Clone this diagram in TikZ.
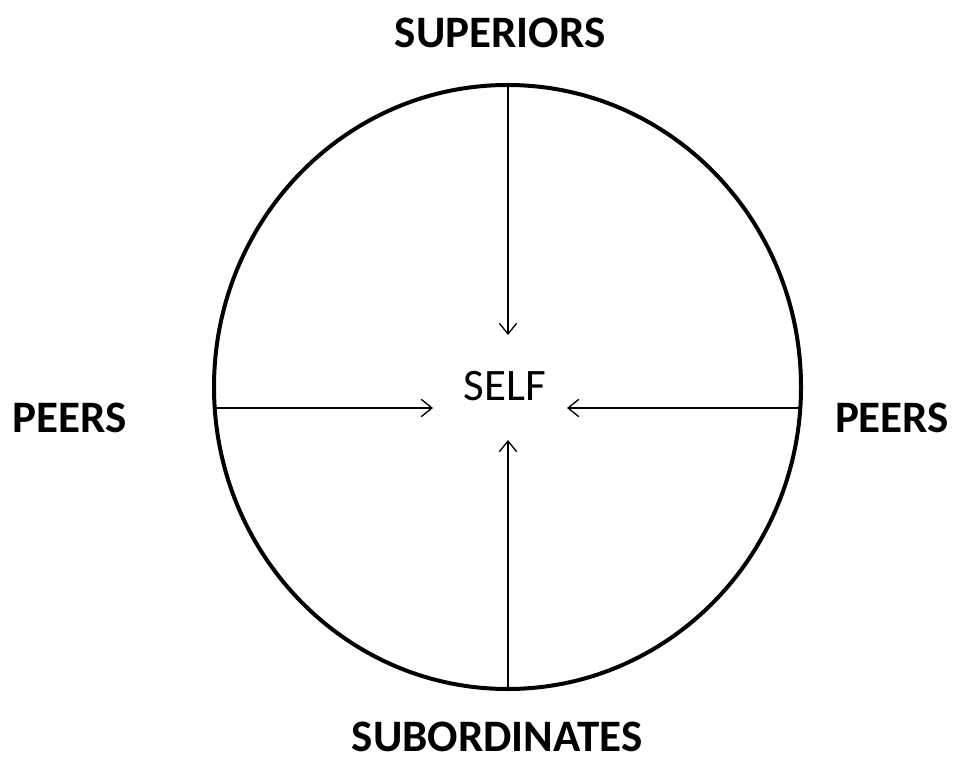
\documentclass[tikz,border=0pt]{standalone}
\usepackage{fontspec}
\setmainfont{Carlito}
\usetikzlibrary{arrows.meta,positioning,shapes.geometric}

\begin{document}
\begin{tikzpicture}[x=0.75pt, y=-0.75pt,
  ring/.style={draw, ellipse, line width=3pt, minimum width=440.25pt, minimum height=453pt, inner sep=0pt},
  lbl/.style={font=\fontsize{33.75}{40}\selectfont\bfseries, inner sep=0pt},
  flow/.style={line width=1pt, -{Straight Barb[length=8pt, width=13pt, line width=1pt]}},
]
\useasboundingbox (0,0) rectangle (956,762);
\node[ring] (ring) at (507.5,387) {};
\node[font=\fontsize{33.75}{40}\selectfont, inner sep=0pt] (self) at (505,386) {SELF};
\node[lbl] (sup) at (500,33) {SUPERIORS};
\node[lbl, anchor=base, text depth=0pt] (sub) at (497,751) {SUBORDINATES};
\node[lbl] (pl) at (70,418) {PEERS};
\node[lbl] (pr) at (892,418) {PEERS};
% arrows from the ring to the centre
\coordinate (inL) at (215,408);
\coordinate (inR) at (801,408);
\coordinate (tipT) at (508,335);
\coordinate (tipB) at (508,440);
\coordinate (tipL) at (433,408);
\coordinate (tipR) at (567,408);
\draw[flow] (ring.north -| tipT) -- (tipT);
\draw[flow] (ring.south -| tipB) -- (tipB);
\draw[flow] (inL) -- (tipL);
\draw[flow] (inR) -- (tipR);
\end{tikzpicture}
\end{document}
